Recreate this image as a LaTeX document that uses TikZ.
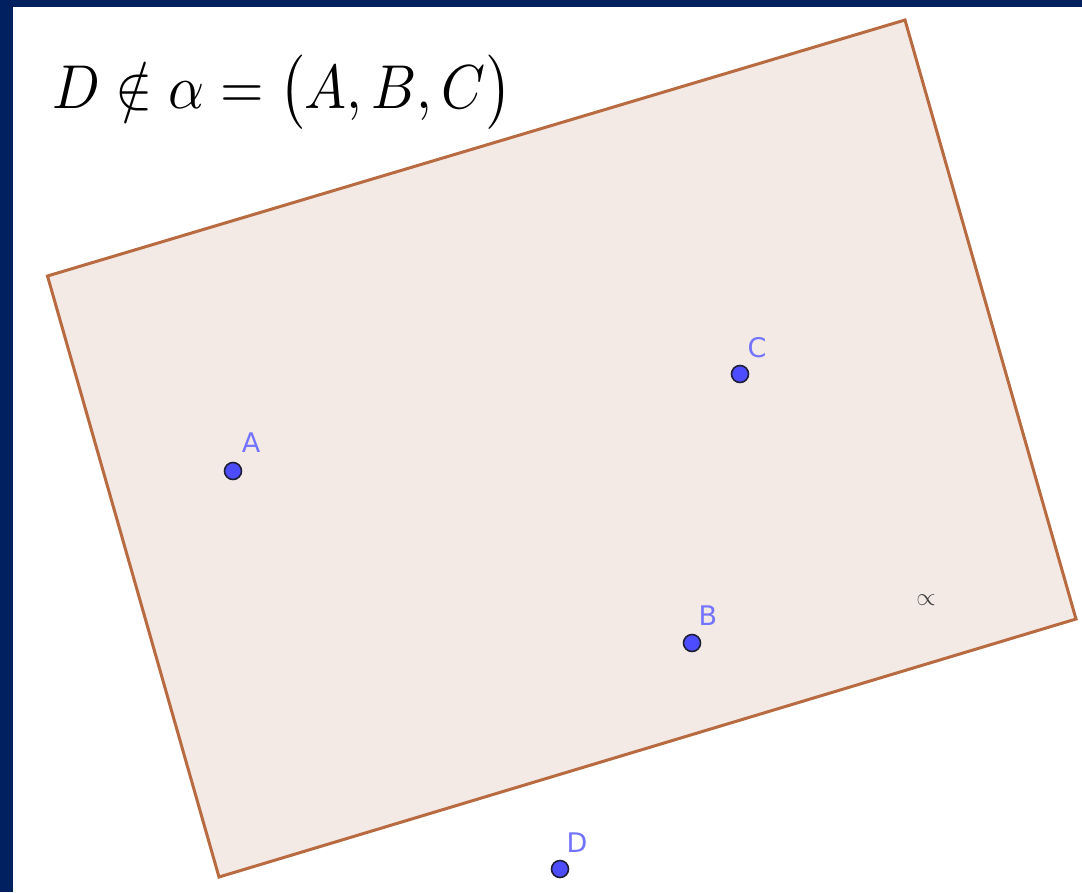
\documentclass[tikz,border=0pt]{standalone}
\usepackage{fontspec}
\usepackage{graphicx}
\newfontfamily\labelfont{DejaVu Sans}
\usetikzlibrary{calc}
\definecolor{navy}{HTML}{002060}
\definecolor{planefill}{HTML}{F3EAE6}
\definecolor{planeedge}{HTML}{B86A40}
\definecolor{ptfill}{HTML}{4D4DFF}
\definecolor{ptedge}{HTML}{1F1F3A}
\definecolor{lblcol}{HTML}{7373FF}
\begin{document}
\begin{tikzpicture}[x=1pt,y=-1pt,
  pt/.style={circle,fill=ptfill,draw=ptedge,line width=1.6pt,minimum size=17pt,inner sep=0pt},
  lbl/.style={text=lblcol,font=\labelfont\fontsize{27}{30}\selectfont,inner sep=0pt},
  planestyle/.style={fill=planefill,draw=planeedge,line width=3pt,line join=miter}]
\useasboundingbox (0,0) rectangle (1082,892);
\fill[navy] (0,0) rectangle (1082,892);
\fill[white] (13,7) rectangle (1082,892);
% plane
\coordinate (p1) at (47.5,276);
\coordinate (p2) at (905,20);
\coordinate (p3) at (1076,619);
\coordinate (p4) at (219,877);
\draw[planestyle] (p1) -- (p2) -- (p3) -- (p4) -- cycle;
\node[text=black!75,font=\fontsize{26}{28}\selectfont,inner sep=0pt] (alpha) at (926,600) {$\propto$};
% formula
\node[anchor=base west,inner sep=0pt] (formula) at (52,108)
  {\scalebox{5.6}[6.2]{$D\notin\alpha=\bigl(A,B,C\bigr)$}};
% points
\node[pt] (A) at (233,471) {};
\node[pt] (B) at (692,643) {};
\node[pt] (C) at (740,374) {};
\node[pt] (D) at (560,869) {};
\node[lbl] (lA) at (251,443) {A};
\node[lbl] (lB) at (708,616) {B};
\node[lbl] (lC) at (757,348) {C};
\node[lbl] (lD) at (577,843) {D};
\end{tikzpicture}
\end{document}
